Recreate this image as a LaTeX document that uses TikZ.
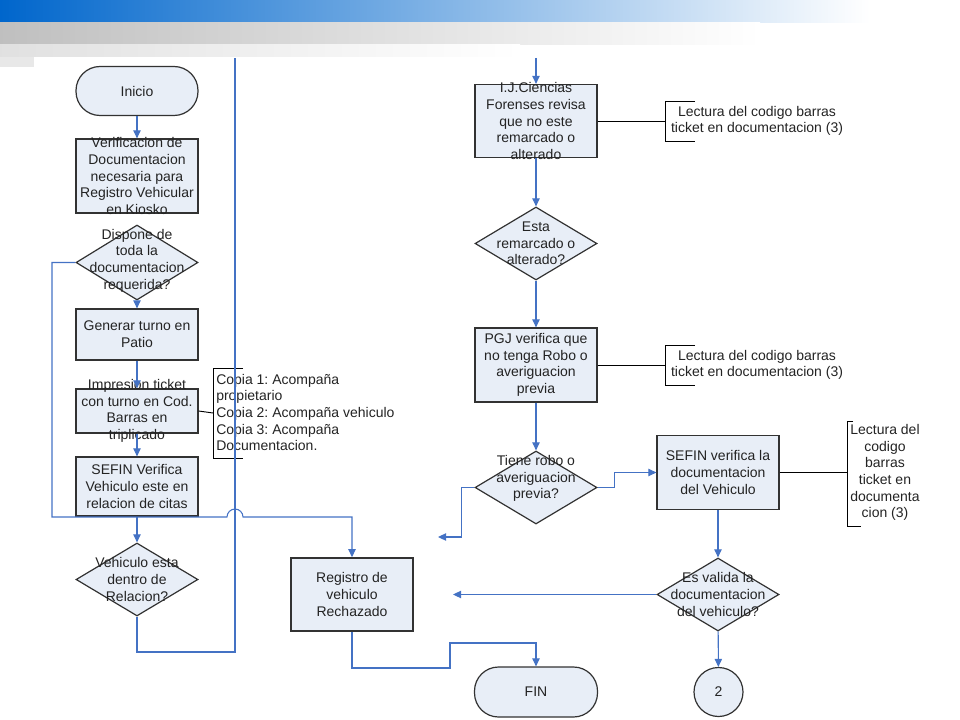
\documentclass[tikz,border=0pt]{standalone}
\usepackage{fontspec}
\setmainfont{Liberation Sans}
\frenchspacing
\definecolor{flujo_azul}{RGB}{68, 114, 196}
\definecolor{flujo_fondo}{RGB}{232, 238, 247}
\definecolor{flujo_borde}{RGB}{50, 50, 50}
\definecolor{flujo_texto}{RGB}{35, 35, 35}
\definecolor{banda_azul}{RGB}{0, 102, 204}
\usepackage{tikz}
\usetikzlibrary{arrows.meta, positioning, shapes.geometric, calc}

\begin{document}
\begin{tikzpicture}[x=0.75pt, y=-0.75pt,
    font=\fontsize{10.5}{12.5}\selectfont,
    proc/.style={rectangle, draw=flujo_borde, line width=0.9pt, fill=flujo_fondo,
      inner sep=0pt, minimum width=91.5pt, minimum height=#1},
    term/.style={rectangle, rounded corners=18pt, draw=flujo_borde, line width=0.9pt,
      fill=flujo_fondo, inner sep=0pt, minimum width=91.5pt, minimum height=#1},
    decision/.style={diamond, draw=flujo_borde, line width=0.9pt, fill=flujo_fondo,
      inner sep=0pt, minimum width=91.5pt, minimum height=#1},
    lbl/.style={text=flujo_texto, align=center, inner sep=0pt},
    flow/.style={draw=flujo_azul, line width=0.8pt, -{Triangle[length=6pt, width=5.5pt]}},
    link/.style={draw=flujo_azul, line width=0.8pt},
    note/.style={draw=black, line width=0.7pt}]
  \useasboundingbox (0,0) rectangle (960,720);
  % Bandas superiores
  \shade[left color=banda_azul, right color=white] (0,0) rectangle (870,23);
  \shade[left color=black!25, right color=white] (0,23) rectangle (760,45);
  \shade[left color=black!12, right color=white] (0,45) rectangle (520,57);
  \fill[black!9] (0,57) rectangle (34,67);

  % Columna izquierda
  \node[term=36.75pt] (inicio) at (137,91) {};
  \node[proc=55.5pt] (verif) at (137,176) {};
  \node[decision=56.25pt] (dispone) at (137,262.5) {};
  \node[proc=38.25pt] (generar) at (137,334.5) {};
  \node[proc=33pt] (impresion) at (137,411) {};
  \node[proc=44.25pt] (sefinv) at (137,486.5) {};
  \node[decision=54.75pt] (vehiculo) at (137,579.5) {};
  \node[proc=54.75pt, line width=1.2pt] (registro) at (352,594.5) {};

  % Columna derecha
  \node[proc=54.75pt] (ij) at (536,121) {};
  \node[decision=54.75pt] (esta) at (536,243.5) {};
  \node[proc=55.5pt] (pgj) at (536,365) {};
  \node[decision=54.75pt] (tiene) at (536,487.5) {};
  \node[proc=55.5pt] (sefinr) at (718,472.5) {};
  \node[decision=54.75pt] (esvalida) at (718,594.5) {};
  \node[term=37.5pt, minimum width=92.25pt] (fin) at (536,692) {};
  \node[circle, draw=flujo_borde, line width=0.9pt, fill=flujo_fondo,
    minimum size=36.75pt, inner sep=0pt] (dos) at (718.5,692) {};

  % Textos
  \node[lbl] (inicio-t) at (inicio) {Inicio};
  \node[lbl] (verif-t) at (verif) {Verificacion de\\Documentacion\\necesaria para\\Registro Vehicular\\en Kiosko};
  \node[lbl] (dispone-t) at ([yshift=1.5pt]dispone.center) {Dispone de\\toda la\\documentacion\\requerida?};
  \node[lbl] (generar-t) at (generar) {Generar turno en\\Patio};
  \node[lbl] (impresion-t) at (impresion) {Impresion ticket\\con turno en Cod.\\Barras en\\triplicado};
  \node[lbl] (sefinv-t) at (sefinv) {SEFIN Verifica\\Vehiculo este en\\relacion de citas};
  \node[lbl] (vehiculo-t) at (vehiculo) {Vehiculo esta\\dentro de\\Relacion?};
  \node[lbl] (registro-t) at (registro) {Registro de\\vehiculo\\Rechazado};
  \node[lbl] (ij-t) at (ij) {I.J.Ciencias\\Forenses revisa\\que no este\\remarcado o\\alterado};
  \node[lbl] (esta-t) at (esta) {Esta\\remarcado o\\alterado?};
  \node[lbl] (pgj-t) at (pgj) {PGJ verifica que\\no tenga Robo o\\averiguacion\\previa};
  \node[lbl] (tiene-t) at ([yshift=6.75pt]tiene.center) {Tiene robo o\\averiguacion\\previa?};
  \node[lbl] (sefinr-t) at (sefinr) {SEFIN verifica la\\documentacion\\del Vehiculo};
  \node[lbl] (esvalida-t) at (esvalida) {Es valida la\\documentacion\\del vehiculo?};
  \node[lbl] (fin-t) at (fin) {FIN};
  \node[lbl] (dos-t) at (dos) {2};

  % Notas
  \node[lbl, align=left, anchor=west] (copias) at (216,412.5)
    {Copia 1: Acompaña\\propietario\\Copia 2: Acompaña vehiculo\\Copia 3: Acompaña\\Documentacion.};
  \node[lbl] (lectura1) at (757,121) {Lectura del codigo barras\\ticket en documentacion (3)};
  \node[lbl] (lectura2) at (757,365) {Lectura del codigo barras\\ticket en documentacion (3)};
  \node[lbl] (lectura3) at (885,472.5) {Lectura del\\codigo\\barras\\ticket en\\documenta\\cion (3)};
  \draw[note] (impresion.east) -- (213,413);
  \draw[note] (243,368) -- (213,368) -- (213,458) -- (243,458);
  \draw[note] (ij.east) -- (665,121);
  \draw[note] (695,101) -- (665,101) -- (665,141) -- (695,141);
  \draw[note] (pgj.east) -- (665,365);
  \draw[note] (695,345) -- (665,345) -- (665,385) -- (695,385);
  \draw[note] (sefinr.east) -- (847,472.5);
  \draw[note] (853,421) -- (847,421) -- (847,526) -- (861,526);

  % Conectores
  \coordinate (salidaL) at (235,58);
  \coordinate (entradaR) at (536,58);
  \coordinate (tieneSi) at (438,537);
  \coordinate (validaNo) at (453,594.5);
  \draw[flow] (inicio) -- (verif);
  \draw[flow] (dispone) -- (generar);
  \draw[flow] (generar) -- (impresion);
  \draw[flow] (impresion) -- (sefinv);
  \draw[flow] (sefinv) -- (vehiculo);
  \draw[flow] (dispone.west) -| (52,517) -- (227,517)
    arc[start angle=180, end angle=0, radius=6pt] -- (352,517) -- (registro.north);
  \draw[link] (vehiculo.south) |- (235,652) -- (salidaL);
  \draw[flow] (entradaR) -- (ij);
  \draw[flow] (ij) -- (esta);
  \draw[flow] (esta) -- (pgj);
  \draw[flow] (pgj) -- (tiene);
  \draw[flow] (tiene.west) -- ++(-13,0) |- (tieneSi);
  \draw[flow] (tiene.east) -- ++(17,0) |- (sefinr.west);
  \draw[flow] (sefinr) -- (esvalida);
  \draw[flow] (esvalida.west) -- (validaNo);
  \draw[flow] (esvalida) -- (dos);
  \draw[flow] (registro.south) |- (450,668) |- (536,643) -- (fin.north);
\end{tikzpicture}
\end{document}
